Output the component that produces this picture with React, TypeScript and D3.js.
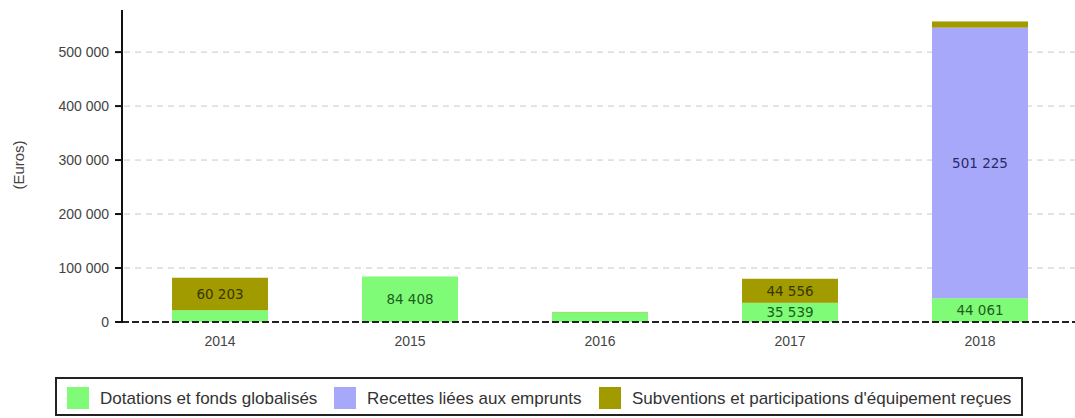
import React from "react";
import * as d3 from "d3";

const years = ["2014", "2015", "2016", "2017", "2018"];
const dotations = [21800, 84408, 18000, 35539, 44061];
const emprunts = [0, 0, 0, 0, 501225];
const subventions = [60203, 0, 700, 44556, 11500];
const seriesNames = [
  "Dotations et fonds globalisés",
  "Recettes liées aux emprunts",
  "Subventions et participations d'équipement reçues",
];
const seriesColors = ["#80fb78", "#a8a8fb", "#a19b00"];
const labelColors = ["#1b5e1b", "#2a2a66", "#3a3600"];
const yTicks = [0, 100000, 200000, 300000, 400000, 500000];

const W = 1075;
const H = 418;
const fmt = (v: number) => d3.format(",")(Math.round(v)).replace(/,/g, " ");

export default function App() {
  const x = d3.scaleBand<string>().domain(years).range([125, 1075]).paddingInner(0.495).paddingOuter(0.2475);
  const y = d3.scaleLinear().domain([0, 578000]).range([322, 10]);
  const rows = years.map((yr, i) => ({ yr, s0: dotations[i], s1: emprunts[i], s2: subventions[i] }));
  const stacked = d3.stack<any>().keys(["s0", "s1", "s2"])(rows);
  const font = "'Liberation Sans', Arial, sans-serif";
  const legendX = [67, 334, 599];
  return (
    <svg width={W} height={H} style={{ position: "absolute", left: 0, top: 0, background: "#fff" }}>
      {yTicks.filter((t) => t > 0).map((t) => (
        <line key={t} x1={124} x2={1075} y1={y(t)} y2={y(t)} stroke="#c8c8c8" strokeDasharray="6,5" strokeWidth={1} />
      ))}
      {stacked.map((layer, si) =>
        layer.map((d, i) => {
          const h = y(d[0]) - y(d[1]);
          if (h <= 0) return null;
          return (
            <rect key={si + "-" + i} x={x(years[i])} width={x.bandwidth()} y={y(d[1])} height={h} fill={seriesColors[si]} />
          );
        })
      )}
      {stacked.map((layer, si) =>
        layer.map((d, i) => {
          const v = d[1] - d[0];
          if (v < 30000) return null;
          return (
            <text key={"l" + si + "-" + i} x={(x(years[i]) as number) + x.bandwidth() / 2} y={(y(d[0]) + y(d[1])) / 2 + 5}
              textAnchor="middle" fontFamily="'DejaVu Sans', Verdana, sans-serif" fontSize={13.5} fill={labelColors[si]}>
              {fmt(v)}
            </text>
          );
        })
      )}
      <line x1={122} x2={1075} y1={y(0)} y2={y(0)} stroke="#222" strokeWidth={2} strokeDasharray="7,3" />
      <line x1={122} x2={122} y1={10} y2={323} stroke="#111" strokeWidth={2} />
      {yTicks.map((t) => (
        <g key={"t" + t}>
          <line x1={115} x2={122} y1={y(t)} y2={y(t)} stroke="#111" strokeWidth={2} />
          <text x={109} y={y(t) + 5} textAnchor="end" fontFamily={font} fontSize={14} fill="#444">{fmt(t)}</text>
        </g>
      ))}
      {years.map((yr) => (
        <text key={"x" + yr} x={(x(yr) as number) + x.bandwidth() / 2} y={346} textAnchor="middle" fontFamily={font} fontSize={14} fill="#444">{yr}</text>
      ))}
      <text transform="translate(24,165) rotate(-90)" textAnchor="middle" fontFamily={font} fontSize={15} fill="#444">(Euros)</text>
      <rect x={56} y={378} width={966} height={37} fill="#fff" stroke="#222" strokeWidth={2} />
      {seriesNames.map((n, i) => (
        <g key={"lg" + i}>
          <rect x={legendX[i]} y={387} width={22} height={22} fill={seriesColors[i]} />
          <text x={legendX[i] + 33} y={404} fontFamily={font} fontSize={17} fill="#333">{n}</text>
        </g>
      ))}
    </svg>
  );
}
